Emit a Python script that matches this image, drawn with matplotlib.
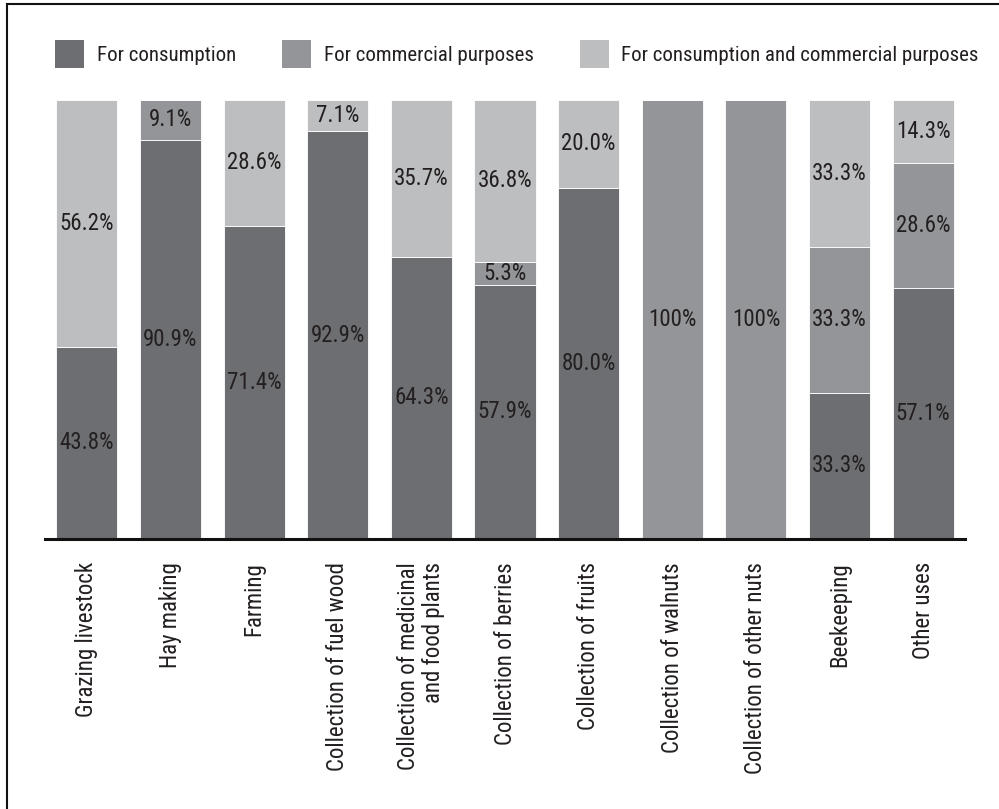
import matplotlib.pyplot as plt
from matplotlib.patches import Patch
from matplotlib.lines import Line2D

plt.rcParams['font.family'] = ['Roboto Condensed', 'PT Sans Narrow', 'DejaVu Sans']

categories = ['Grazing livestock', 'Hay making', 'Farming', 'Collection of fuel wood',
              'Collection of medicinal\nand food plants', 'Collection of berries',
              'Collection of fruits', 'Collection of walnuts', 'Collection of other nuts',
              'Beekeeping', 'Other uses']
consumption = [43.8, 90.9, 71.4, 92.9, 64.3, 57.9, 80.0, 0, 0, 33.3, 57.1]
commercial = [0, 9.1, 0, 0, 0, 5.3, 0, 100, 100, 33.3, 28.6]
both = [56.2, 0, 28.6, 7.1, 35.7, 36.8, 20.0, 0, 0, 33.3, 14.3]

series_names = ['For consumption', 'For commercial purposes',
                'For consumption and commercial purposes']
colors = ['#6d6e71', '#939598', '#bcbec0']
txt_color = '#231f20'
fs = 16.5
legend_fs = 15

fig = plt.figure(figsize=(9.99, 8.09), dpi=100)
ax = fig.add_axes([45 / 999, 1 - 539 / 809, 920 / 999, 439 / 809])

x = range(len(categories))
bottom = [0] * len(categories)
for vals, col in zip([consumption, commercial, both], colors):
    bars = ax.bar(x, vals, width=0.73, bottom=bottom, color=col,
                  edgecolor='white', linewidth=0.6)
    for b, v, b0 in zip(bars, vals, bottom):
        if v <= 0:
            continue
        lab = '100%' if v == 100 else f'{v:.1f}%'
        ax.text(b.get_x() + b.get_width() / 2, b0 + v / 2, lab,
                ha='center', va='center', fontsize=fs, color=txt_color)
    bottom = [a + b for a, b in zip(bottom, vals)]

ax.set_xlim(-0.5, 10.5)
ax.set_ylim(0, 100)
ax.set_yticks([])
ax.set_xticks(list(x))
ax.set_xticklabels(categories, rotation=90, fontsize=fs, color=txt_color,
                   multialignment='right', linespacing=1.1)
ax.tick_params(axis='x', length=0, pad=16.5)
for s in ['top', 'right', 'left']:
    ax.spines[s].set_visible(False)
ax.spines['bottom'].set_linewidth(2.2)
ax.spines['bottom'].set_color('#111111')

handles = [Patch(facecolor=c, edgecolor='none') for c in colors]
fig.legend(handles, series_names, loc='upper left', ncol=3,
           bbox_to_anchor=(55 / 999, 1 - 40 / 809), frameon=False,
           fontsize=legend_fs, handlelength=1.39, handleheight=1.7,
           handletextpad=0.62, columnspacing=2.2, borderpad=0,
           borderaxespad=0, labelcolor=txt_color)

# outer frame (top and left edges)
fig.add_artist(Line2D([7 / 999, 1.0], [1 - 4 / 809, 1 - 4 / 809],
                      transform=fig.transFigure, color='#111111', lw=1.5))
fig.add_artist(Line2D([7 / 999, 7 / 999], [0, 1 - 4 / 809],
                      transform=fig.transFigure, color='#111111', lw=1.5))

fig.savefig('out.png', dpi=100)
